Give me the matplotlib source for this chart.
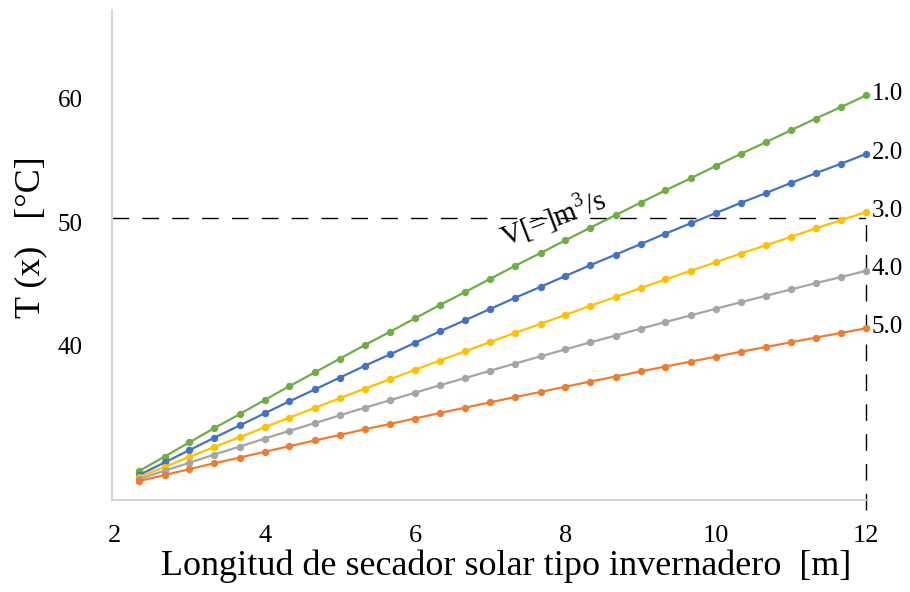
import numpy as np
import matplotlib
matplotlib.use("Agg")
import matplotlib.pyplot as plt

plt.rcParams['font.family'] = ['Liberation Serif', 'DejaVu Serif']
plt.rcParams['mathtext.fontset'] = 'custom'
plt.rcParams['mathtext.rm'] = 'Liberation Serif'

# dryer length [m]
x_len = [2.33, 2.67, 3.00, 3.33, 3.67, 4.00, 4.33, 4.67, 5.00, 5.33,
         5.67, 6.00, 6.33, 6.67, 7.00, 7.33, 7.67, 8.00, 8.33, 8.67,
         9.00, 9.33, 9.67, 10.00, 10.33, 10.67, 11.00, 11.33, 11.67, 12.00]

# air temperature T(x) [C] for each flow rate
t_10 = [29.84, 31.01, 32.16, 33.31, 34.45, 35.59, 36.71, 37.83, 38.93, 40.03,
        41.12, 42.20, 43.28, 44.34, 45.40, 46.45, 47.49, 48.52, 49.54, 50.56,
        51.57, 52.56, 53.55, 54.54, 55.51, 56.47, 57.43, 58.38, 59.32, 60.25]
t_20 = [29.51, 30.53, 31.53, 32.53, 33.53, 34.51, 35.48, 36.45, 37.40, 38.35,
        39.29, 40.22, 41.14, 42.06, 42.96, 43.86, 44.75, 45.63, 46.50, 47.36,
        48.21, 49.06, 49.90, 50.72, 51.54, 52.35, 53.16, 53.95, 54.73, 55.51]
t_30 = [29.35, 30.17, 30.98, 31.78, 32.58, 33.38, 34.16, 34.95, 35.73, 36.50,
        37.27, 38.03, 38.78, 39.53, 40.28, 41.02, 41.75, 42.48, 43.21, 43.93,
        44.64, 45.35, 46.05, 46.74, 47.44, 48.12, 48.80, 49.48, 50.15, 50.81]
t_40 = [29.19, 29.86, 30.51, 31.17, 31.82, 32.46, 33.09, 33.72, 34.35, 34.96,
        35.57, 36.18, 36.78, 37.37, 37.96, 38.54, 39.12, 39.69, 40.25, 40.81,
        41.36, 41.90, 42.44, 42.98, 43.50, 44.03, 44.54, 45.05, 45.55, 46.05]
t_50 = [29.03, 29.51, 29.99, 30.46, 30.93, 31.39, 31.85, 32.31, 32.76, 33.21,
        33.65, 34.09, 34.53, 34.97, 35.40, 35.82, 36.24, 36.66, 37.08, 37.49,
        37.90, 38.30, 38.70, 39.09, 39.49, 39.88, 40.26, 40.64, 41.02, 41.39]

series = [t_10, t_20, t_30, t_40, t_50]
flow_labels = ['1.0', '2.0', '3.0', '4.0', '5.0']
colors = ['#70AD47', '#4472C4', '#FFC000', '#A5A5A5', '#ED7D31']

x_ticks = [2, 4, 6, 8, 10, 12]
y_ticks = [40, 50, 60]
ref_temp = 50.3
ref_len = 12

fig = plt.figure(figsize=(9.1, 5.92), dpi=100)
ax = fig.add_axes([0.1231, 0.1554, 0.8286, 0.8277])

for vals, col in zip(series, colors):
    ax.plot(x_len, vals, '-o', color=col, lw=1.6, ms=4.3, clip_on=False, zorder=3)

for vals, lab in zip(series, flow_labels):
    ax.annotate(lab, (x_len[-1], vals[-1]), xytext=(4, 1), textcoords='offset points',
                ha='left', va='center', fontsize=18, annotation_clip=False)

# reference dashed lines
ax.axhline(ref_temp, color='black', lw=1.0, dashes=(12, 9.5), zorder=2)
ax.plot([ref_len, ref_len], [26.7, ref_temp], color='black', lw=1.0,
        dashes=(12, 9.5), clip_on=False, zorder=2)

ax.text(7.84, 50.4, 'V[=]m$^{3}$/s', rotation=21, rotation_mode='anchor',
        ha='center', va='center', fontsize=21)

ax.set_xlim(1.97, 12)
ax.set_ylim(27.49, 67.17)
ax.set_xticks(x_ticks)
ax.set_yticks(y_ticks)
ax.tick_params(axis='both', length=0)
ax.tick_params(axis='x', labelsize=19, pad=18)
ax.tick_params(axis='y', labelsize=18, pad=21)

for s in ['top', 'right']:
    ax.spines[s].set_visible(False)
for s in ['left', 'bottom']:
    ax.spines[s].set_color('#D0D0D0')
    ax.spines[s].set_linewidth(1.3)

ax.set_xlabel('Longitud de secador solar tipo invernadero  [m]', fontsize=26)
ax.xaxis.set_label_coords(0.5225, -0.10)
ax.set_ylabel('T (x)   [°C]', fontsize=26)
ax.yaxis.set_label_coords(-0.086, 0.537)

fig.savefig('out.png', dpi=100)
